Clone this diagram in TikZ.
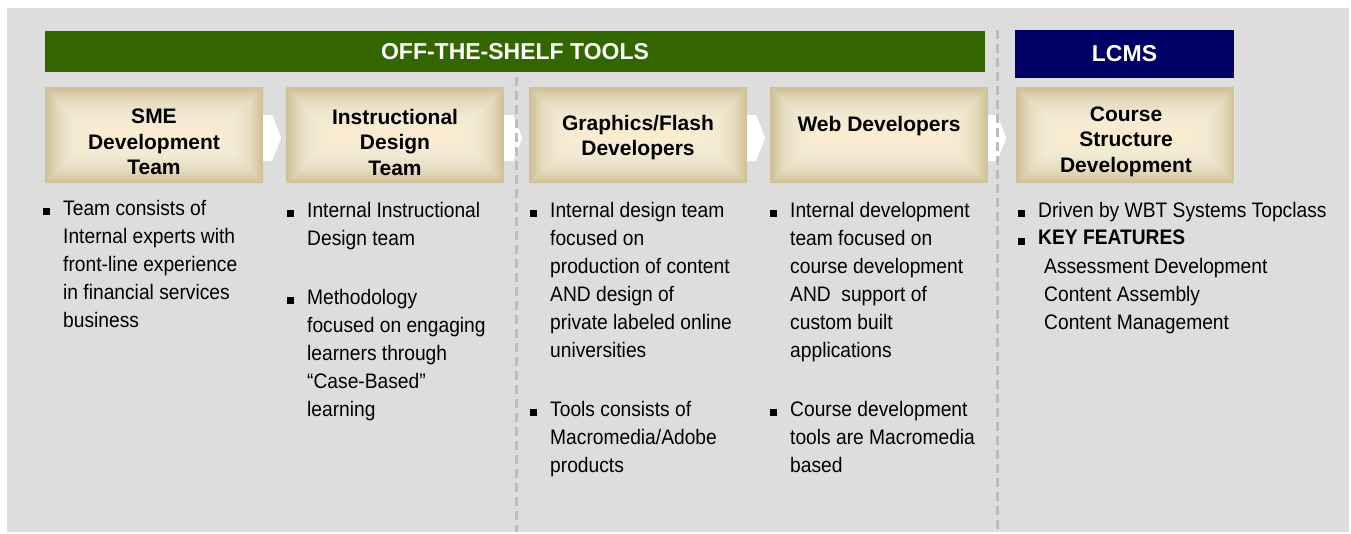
\documentclass[tikz,border=0pt]{standalone}
\usepackage{fontspec}
\setmainfont{Liberation Sans}
\newfontfamily\narrowsans[FakeStretch=0.915]{Liberation Sans}
\usetikzlibrary{calc}

\definecolor{panelgrey}{HTML}{DDDDDD}
\definecolor{shelfgreen}{HTML}{336600}
\definecolor{lcmsnavy}{HTML}{000066}
\definecolor{dashgrey}{HTML}{BDBDBD}
\definecolor{bedge}{RGB}{205,191,150}
\definecolor{bsoft}{RGB}{228,218,188}
\definecolor{bmid}{RGB}{242,234,212}
\definecolor{bcenter}{RGB}{252,236,208}

% edge-to-centre fade used on every side of a team box
\pgfdeclareverticalshading{beigefade}{100bp}{%
  color(0bp)=(bcenter); color(25bp)=(bcenter); color(45bp)=(bmid);
  color(62bp)=(bsoft); color(75bp)=(bedge); color(100bp)=(bedge)}

% rectangular "from the centre" gradient built from four shaded pieces
\newcommand{\beigefill}{%
  \coordinate (bbA) at (path picture bounding box.north west);
  \coordinate (bbC) at (path picture bounding box.south east);
  \fill[bmid] (bbA) rectangle (bbC);
  \shade[shading=beigefade]
    (bbA) -- (bbC |- bbA) -- ($(bbC |- bbA)+(-48,48)$) -- ($(bbA)+(48,48)$) -- cycle;
  \shade[shading=beigefade, shading angle=180]
    (bbA |- bbC) -- (bbC) -- ($(bbC)+(-48,-48)$) -- ($(bbA |- bbC)+(48,-48)$) -- cycle;
  \shade[shading=beigefade, shading angle=90]
    (bbA) -- ($(bbA)+(48,48)$) -- (bbA |- bbC) -- cycle;
  \shade[shading=beigefade, shading angle=-90]
    (bbC |- bbA) -- ($(bbC |- bbA)+(-48,48)$) -- (bbC) -- cycle;
}

% white chevron leaving the east side of a box
\newcommand{\chevronafter}[1]{%
  \fill[white] ($(#1.east)+(0,-20)$) -- ++(9,0) -- ++(9,23) -- ++(-9,23) -- ++(-9,0) -- cycle;
}

\tikzset{
  bar/.style={inner sep=0pt, text=white, font=\bfseries\fontsize{23}{27}\selectfont},
  teambox/.style={minimum width=218pt, minimum height=96pt, inner sep=0pt, path picture={\beigefill}},
  boxlabel/.style={anchor=north, inner sep=0pt, align=center, font=\bfseries\fontsize{21}{25.5}\selectfont},
  body/.style={anchor=north west, inner sep=0pt, align=left, font=\narrowsans\fontsize{21}{28}\selectfont},
  bulletsq/.style={fill=black, inner sep=0pt, minimum size=7pt, anchor=south west},
  divider/.style={draw=dashgrey, line width=3pt, dash pattern=on 9pt off 5pt},
}

\begin{document}
\begin{tikzpicture}[x=1pt, y=-1pt]
  \useasboundingbox (0,0) rectangle (1351,533);
  \fill[white] (0,0) rectangle (1351,533);
  \fill[panelgrey] (7,8) rectangle (1349,532);

  % header bars
  \node[bar, fill=shelfgreen, minimum width=940pt, minimum height=41pt] (shelf) at (515,51.5) {OFF-THE-SHELF TOOLS};
  \node[bar, fill=lcmsnavy, minimum width=219pt, minimum height=48pt] (lcms) at (1124.5,54) {LCMS};

  % team boxes
  \node[teambox] (sme)    at (154,135)    {};
  \node[teambox] (isd)    at (395,135)    {};
  \node[teambox] (gfx)    at (638,135)    {};
  \node[teambox] (web)    at (879,135)    {};
  \node[teambox] (course) at (1125.5,135) {};

  % chevrons between the boxes
  \chevronafter{sme}
  \chevronafter{isd}
  \chevronafter{gfx}
  \chevronafter{web}

  % section dividers
  \draw[divider] (516,77) -- (516,532);
  \draw[divider] (997.5,30) -- (997.5,532);

  % box titles
  \node[boxlabel] (smeT)    at (154,109)    {SME\\Development\\Team};
  \node[boxlabel] (isdT)    at (395,109)    {Instructional\\Design\\Team};
  \node[boxlabel] (gfxT)    at (638,115)    {Graphics/Flash\\Developers};
  \node[boxlabel] (webT)    at (879,116)    {Web Developers};
  \node[boxlabel] (courseT) at (1126,106.5) {Course\\Structure\\Development};

  % SME column
  \node[bulletsq] (smeB1) at (43,215) {};
  \node[body] (smeP1) at (63,200) {Team consists of\\Internal experts with\\front-line experience\\in financial services\\business};

  % instructional design column
  \node[bulletsq] (isdB1) at (287,217) {};
  \node[body] (isdP1) at (307,202) {Internal Instructional\\Design team};
  \node[bulletsq] (isdB2) at (287,304) {};
  \node[body] (isdP2) at (307,289) {Methodology\\focused on engaging\\learners through\\“Case-Based”\\learning};

  % graphics column
  \node[bulletsq] (gfxB1) at (530,217) {};
  \node[body] (gfxP1) at (550,202) {Internal design team\\focused on\\production of content\\AND design of\\private labeled online\\universities};
  \node[bulletsq] (gfxB2) at (530,416) {};
  \node[body] (gfxP2) at (550,401) {Tools consists of\\Macromedia/Adobe\\products};

  % web column
  \node[bulletsq] (webB1) at (770,217) {};
  \node[body] (webP1) at (790,202) {Internal development\\team focused on\\course development\\AND\ \ support of\\custom built\\applications};
  \node[bulletsq] (webB2) at (770,416) {};
  \node[body] (webP2) at (790,401) {Course development\\tools are Macromedia\\based};

  % LCMS column
  \node[bulletsq] (courseB1) at (1018,217) {};
  \node[body] (courseP1) at (1038,202) {Driven by WBT Systems Topclass};
  \node[bulletsq] (courseB2) at (1018,245) {};
  \node[body, font=\narrowsans\bfseries\fontsize{21}{28}\selectfont] (courseP2) at (1038,230) {KEY FEATURES};
  \node[body] (courseP3) at (1044,258) {Assessment Development\\Content Assembly\\Content Management};
\end{tikzpicture}
\end{document}
